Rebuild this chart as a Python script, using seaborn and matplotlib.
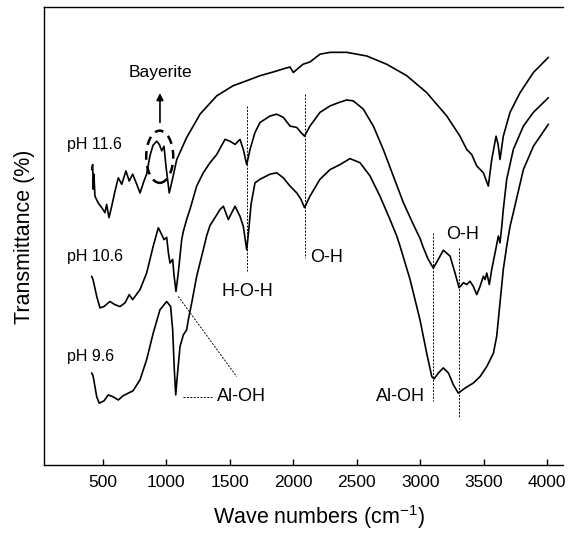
import matplotlib
matplotlib.use("Agg")
import matplotlib.pyplot as plt
from matplotlib.patches import Ellipse
import seaborn as sns
import pandas as pd

# FTIR spectra (wave number in cm^-1, transmittance in arbitrary offset units)
wn_116 = [413, 421, 426, 431, 439, 465, 492, 518, 531, 550, 571, 597, 623, 650, 683, 709,
          736, 768, 794, 825, 846, 872, 896, 925, 946, 965, 983, 998, 1024, 1043, 1083, 1161,
          1240, 1266, 1398, 1526, 1634, 1739, 1841, 1935, 1975, 2001, 2030, 2077, 2132, 2211,
          2290, 2421, 2579, 2736, 2894, 3051, 3209, 3313, 3366, 3405, 3445, 3497, 3536, 3563,
          3597, 3613, 3628, 3654, 3707, 3786, 3891, 4009]
t_116 = [64.5, 65.6, 60.2, 63.5, 58.7, 57.2, 56.2, 55.1, 56.9, 54.0, 56.5, 59.8, 62.7, 61.3,
         64.2, 62.0, 63.5, 61.3, 59.4, 62.0, 63.5, 67.5, 69.8, 70.7, 70.0, 68.6, 69.6, 65.3,
         59.4, 61.6, 66.7, 71.5, 75.3, 76.6, 80.6, 82.8, 83.9, 85.0, 85.8, 86.6, 86.9, 85.7,
         86.4, 87.5, 88.0, 89.7, 90.1, 90.1, 89.3, 87.5, 85.0, 81.3, 76.2, 71.8, 68.9, 67.8,
         65.3, 63.8, 60.9, 66.7, 71.8, 70.0, 66.7, 71.8, 77.0, 81.3, 85.7, 89.0]

wn_106 = [413, 424, 453, 479, 510, 557, 597, 636, 676, 709, 736, 794, 846, 898, 938, 965,
          983, 1004, 1017, 1030, 1051, 1061, 1077, 1095, 1122, 1135, 1161, 1187, 1240, 1292,
          1345, 1398, 1463, 1502, 1542, 1581, 1607, 1634, 1660, 1699, 1739, 1818, 1870, 1922,
          1975, 2028, 2061, 2089, 2132, 2211, 2290, 2355, 2421, 2473, 2552, 2631, 2709, 2788,
          2867, 2946, 2998, 3024, 3061, 3103, 3132, 3182, 3235, 3274, 3306, 3340, 3366, 3392,
          3418, 3445, 3471, 3497, 3510, 3524, 3544, 3563, 3589, 3615, 3628, 3642, 3654, 3681,
          3733, 3812, 3891, 4009]
t_106 = [41.2, 40.5, 36.8, 34.3, 34.6, 35.7, 35.0, 34.6, 35.4, 37.2, 36.1, 38.3, 41.9, 47.8,
         51.8, 50.3, 49.2, 49.7, 46.4, 44.1, 44.9, 41.6, 37.9, 41.9, 49.2, 51.0, 53.6, 55.8,
         60.9, 63.8, 66.0, 67.8, 71.1, 70.7, 70.0, 71.1, 68.9, 65.6, 68.9, 72.6, 74.8, 76.2,
         76.6, 75.9, 74.0, 73.7, 72.6, 71.8, 74.0, 77.0, 78.4, 79.1, 79.7, 79.5, 77.7, 74.0,
         68.9, 63.1, 57.3, 52.5, 49.5, 47.5, 45.0, 43.0, 44.4, 46.9, 45.6, 41.9, 38.7, 39.8,
         39.4, 40.1, 39.0, 37.2, 39.0, 41.2, 40.5, 41.9, 39.4, 42.7, 46.3, 50.0, 48.5, 52.1,
         55.8, 62.4, 68.9, 74.0, 77.0, 80.2]

wn_96 = [413, 424, 453, 473, 510, 544, 581, 623, 660, 702, 739, 794, 846, 898, 951, 1004,
         1035, 1051, 1064, 1075, 1087, 1109, 1135, 1161, 1174, 1201, 1240, 1292, 1319, 1345,
         1384, 1424, 1450, 1489, 1516, 1542, 1581, 1607, 1634, 1652, 1668, 1699, 1739, 1818,
         1870, 1922, 1975, 2028, 2061, 2089, 2132, 2211, 2290, 2369, 2447, 2526, 2605, 2683,
         2762, 2815, 2841, 2920, 2998, 3051, 3091, 3109, 3143, 3182, 3222, 3261, 3300, 3353,
         3418, 3471, 3524, 3576, 3602, 3628, 3654, 3681, 3707, 3733, 3812, 3891, 4009]
t_96 = [20.1, 19.5, 14.9, 13.5, 14.0, 15.3, 14.9, 14.2, 15.1, 15.7, 16.2, 18.6, 23.0, 28.8,
        33.9, 35.7, 34.6, 29.5, 20.8, 15.3, 19.3, 25.9, 28.4, 29.5, 31.7, 35.4, 41.2, 47.0,
        50.1, 52.3, 54.0, 55.8, 56.5, 53.6, 55.1, 56.5, 54.3, 52.1, 47.0, 51.9, 56.9, 61.6,
        62.4, 63.5, 63.8, 62.7, 60.9, 59.4, 58.0, 56.2, 58.7, 62.4, 64.5, 65.6, 66.9, 66.0,
        63.1, 58.7, 53.6, 50.0, 47.8, 40.5, 31.7, 24.4, 19.3, 18.8, 20.1, 21.2, 20.1, 17.5,
        15.7, 16.8, 17.9, 19.3, 21.5, 24.4, 28.1, 35.4, 42.7, 47.8, 52.1, 55.1, 64.5, 69.6,
        74.4]

sample_labels = ["pH 11.6", "pH 10.6", "pH 9.6"]
x_ticks = [500, 1000, 1500, 2000, 2500, 3000, 3500, 4000]

sns.set_theme(style="white")
plt.rcParams["font.family"] = ["Liberation Sans", "DejaVu Sans"]
plt.rcParams["mathtext.fontset"] = "custom"
plt.rcParams["mathtext.rm"] = "Liberation Sans"
plt.rcParams["mathtext.it"] = "Liberation Sans"
plt.rcParams["text.color"] = "black"
plt.rcParams["axes.labelcolor"] = "black"
plt.rcParams["xtick.color"] = "black"

fig = plt.figure(figsize=(5.72, 5.34), dpi=100)
ax = fig.add_axes([44 / 572, 1 - 465 / 534, 519 / 572, 458 / 534])

frames = []
for lab, wn, t in zip(sample_labels, [wn_116, wn_106, wn_96], [t_116, t_106, t_96]):
    frames.append(pd.DataFrame({"wn": wn, "T": t, "sample": lab}))
df = pd.concat(frames, ignore_index=True)

for lab in sample_labels:
    sub = df[df["sample"] == lab]
    sns.lineplot(data=sub, x="wn", y="T", ax=ax, color="black", lw=1.2,
                 sort=False, estimator=None, legend=False,
                 solid_joinstyle="round", solid_capstyle="round")

ax.set_xlim(38, 4124)
ax.set_ylim(0, 100)
ax.set_xticks(x_ticks)
ax.set_yticks([])
ax.tick_params(axis="x", direction="in", length=4, width=1, pad=7,
               labelsize=12.5, colors="black", bottom=True)
for side in ["top", "left", "bottom"]:
    ax.spines[side].set_visible(True)
    ax.spines[side].set_color("black")
    ax.spines[side].set_linewidth(1.0)
ax.spines["right"].set_visible(False)

ax.set_xlabel(r"Wave numbers (cm$^{\mathregular{-1}}$)", fontsize=15.5)
ax.xaxis.set_label_coords(0.53, -0.113)
ax.xaxis.label.set_va("center")
ax.set_ylabel("Transmittance (%)", fontsize=15.5)
ax.yaxis.set_label_coords(-0.037, 0.498)
ax.yaxis.label.set_va("center")

# sample labels
for lab, yv in zip(sample_labels, [70.0, 45.6, 23.7]):
    ax.text(217, yv, lab, fontsize=11.5, ha="left", va="center")

# band assignments
dot = dict(color="black", lw=0.7, ls=(0, (2, 1.5)))
ax.plot([1634, 1634], [78.4, 42.3], **dot)
ax.text(1640, 37.9, "H-O-H", fontsize=13, ha="center", va="center")
ax.plot([2089, 2089], [81.0, 45.2], **dot)
ax.text(2132, 45.3, "O-H", fontsize=13, ha="left", va="center")
ax.plot([3103, 3103], [50.7, 13.9], **dot)
ax.text(3038, 14.9, "Al-OH", fontsize=13, ha="right", va="center")
ax.plot([3306, 3306], [47.4, 10.2], **dot)
ax.text(3337, 50.3, "O-H", fontsize=13, ha="center", va="center")
ax.plot([1135, 1358], [14.9, 14.9], **dot)
ax.plot([1095, 1555], [36.8, 19.3], **dot)
ax.text(1398, 14.9, "Al-OH", fontsize=13, ha="left", va="center")

# bayerite marker
ax.add_patch(Ellipse((949, 67.3), width=213, height=11.4, fill=False,
                     ec="black", lw=1.8, ls=(0, (3.5, 2.5))))
ax.annotate("", xy=(951, 81.2), xytext=(951, 74.8),
            arrowprops=dict(arrowstyle="-|>", color="black", lw=1.2,
                            mutation_scale=10, shrinkA=0, shrinkB=0))
ax.text(951, 85.7, "Bayerite", fontsize=12.5, ha="center", va="center")

fig.savefig("out.png", dpi=100)
